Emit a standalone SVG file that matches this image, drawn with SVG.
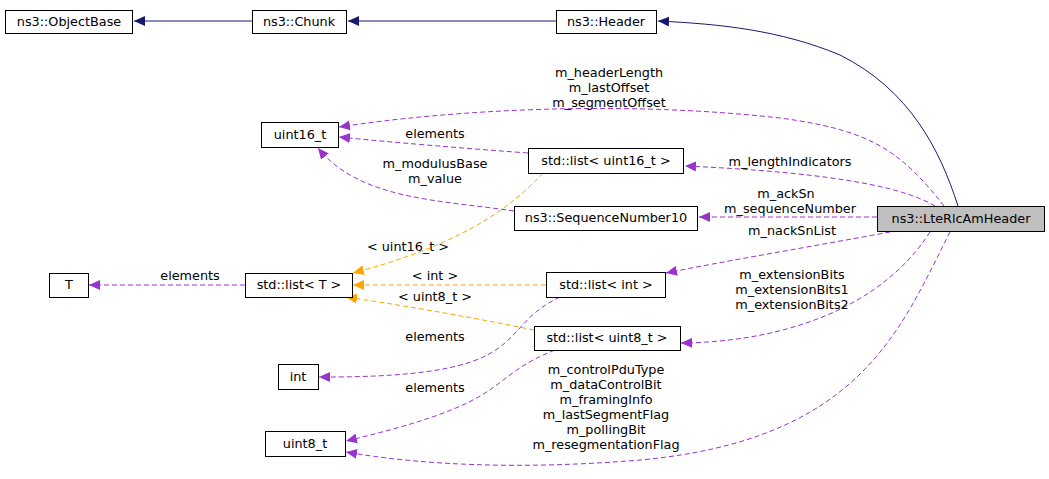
<svg xmlns="http://www.w3.org/2000/svg" width="1049" height="479" viewBox="0 0 1049 479">
<style>
.n rect{fill:#fff;stroke:#000;stroke-width:1}
text{font-family:"DejaVu Sans",sans-serif;font-size:12.8px;fill:#000}
.c{text-anchor:middle}
.inh{fill:none;stroke:#191970;stroke-width:1}
.use{fill:none;stroke:#9a32cd;stroke-width:1;stroke-dasharray:5,3}
.tpl{fill:none;stroke:#ffa500;stroke-width:1;stroke-dasharray:5,3}
</style>
<defs>
<marker id="mi" markerWidth="12" markerHeight="10" refX="11" refY="5" orient="auto" markerUnits="userSpaceOnUse"><path d="M0,0 L11,5 L0,10 z" fill="#191970"/></marker>
<marker id="mu" markerWidth="12" markerHeight="10" refX="11" refY="5" orient="auto" markerUnits="userSpaceOnUse"><path d="M0,0 L11,5 L0,10 z" fill="#9a32cd"/></marker>
<marker id="mt" markerWidth="12" markerHeight="10" refX="11" refY="5" orient="auto" markerUnits="userSpaceOnUse"><path d="M0,0 L11,5 L0,10 z" fill="#ffa500"/></marker>
</defs>
<rect width="1049" height="479" fill="#fff"/>
<g id="connectors">
<path class="inh" marker-end="url(#mi)" d="M252,21 L134,21"/>
<path class="inh" marker-end="url(#mi)" d="M556,21 L348,21"/>
<path class="inh" marker-end="url(#mi)" d="M958,206 C940,150 910,90 840,55 C780,30 720,24 658,21"/>
<path class="use" marker-end="url(#mu)" d="M944,206 C900,150 870,130 780,118 C620,100 450,110 339,127"/>
<path class="use" marker-end="url(#mu)" d="M935,206 C900,185 820,172 685,166"/>
<path class="use" marker-end="url(#mu)" d="M877,217 L699,217"/>
<path class="use" marker-end="url(#mu)" d="M890,232 C820,245 720,262 666,273"/>
<path class="use" marker-end="url(#mu)" d="M930,232 C880,310 780,342 681,343"/>
<path class="use" marker-end="url(#mu)" d="M950,232 C900,330 860,440 640,460 C520,470 420,465 346,452"/>
<path class="use" marker-end="url(#mu)" d="M528,153 C460,148 400,143 339,137"/>
<path class="use" marker-end="url(#mu)" d="M514,211 C440,200 360,200 318,148"/>
<path class="use" marker-end="url(#mu)" d="M245,285 L89,285"/>
<path class="use" marker-end="url(#mu)" d="M560,297 C490,330 540,378 319,377"/>
<path class="use" marker-end="url(#mu)" d="M555,350 C480,380 520,400 346,441"/>
<path class="tpl" marker-end="url(#mt)" d="M543,173 C500,220 440,250 353,273"/>
<path class="tpl" marker-end="url(#mt)" d="M546,285 L353,285"/>
<path class="tpl" marker-end="url(#mt)" d="M534,330 C460,315 400,305 346,297"/>
</g>
<g>
<text class="c" x="609" y="77">m_headerLength</text>
<text class="c" x="609" y="92">m_lastOffset</text>
<text class="c" x="609" y="107">m_segmentOffset</text>
<text class="c" x="790" y="166">m_lengthIndicators</text>
<text class="c" x="786" y="198">m_ackSn</text>
<text class="c" x="790" y="213">m_sequenceNumber</text>
<text class="c" x="792" y="235">m_nackSnList</text>
<text class="c" x="792" y="279">m_extensionBits</text>
<text class="c" x="792" y="294">m_extensionBits1</text>
<text class="c" x="792" y="309">m_extensionBits2</text>
<text class="c" x="606" y="374">m_controlPduType</text>
<text class="c" x="606" y="389">m_dataControlBit</text>
<text class="c" x="606" y="404">m_framingInfo</text>
<text class="c" x="606" y="419">m_lastSegmentFlag</text>
<text class="c" x="606" y="434">m_pollingBit</text>
<text class="c" x="606" y="449">m_resegmentationFlag</text>
<text class="c" x="435" y="138">elements</text>
<text class="c" x="435" y="168">m_modulusBase</text>
<text class="c" x="435" y="183">m_value</text>
<text class="c" x="408" y="251">&lt; uint16_t &gt;</text>
<text class="c" x="190" y="280">elements</text>
<text class="c" x="435" y="280">&lt; int &gt;</text>
<text class="c" x="435" y="301">&lt; uint8_t &gt;</text>
<text class="c" x="435" y="341">elements</text>
<text class="c" x="435" y="392">elements</text>
</g>
<g id="n_objectbase" class="n"><rect x="5.5" y="10.5" width="127" height="23"/><text class="c" x="69" y="26">ns3::ObjectBase</text></g>
<g id="n_chunk" class="n"><rect x="252.5" y="10.5" width="94" height="23"/><text class="c" x="299" y="26">ns3::Chunk</text></g>
<g id="n_header" class="n"><rect x="556.5" y="10.5" width="100" height="23"/><text class="c" x="606" y="26">ns3::Header</text></g>
<g id="n_lte" class="n"><rect x="877.5" y="206.5" width="167" height="25" style="fill:#bfbfbf"/><text class="c" x="961" y="223">ns3::LteRlcAmHeader</text></g>
<g id="n_uint16" class="n"><rect x="261.5" y="122.5" width="77" height="25"/><text class="c" x="300" y="139">uint16_t</text></g>
<g id="n_list16" class="n"><rect x="528.5" y="148.5" width="155" height="25"/><text class="c" x="606" y="165">std::list&lt; uint16_t &gt;</text></g>
<g id="n_seq" class="n"><rect x="514.5" y="206.5" width="183" height="24"/><text class="c" x="606" y="222">ns3::SequenceNumber10</text></g>
<g id="n_T" class="n"><rect x="49.5" y="273.5" width="39" height="24"/><text class="c" x="69" y="289">T</text></g>
<g id="n_listT" class="n"><rect x="245.5" y="273.5" width="107" height="24"/><text class="c" x="299" y="289">std::list&lt; T &gt;</text></g>
<g id="n_listint" class="n"><rect x="546.5" y="272.5" width="119" height="25"/><text class="c" x="606" y="289">std::list&lt; int &gt;</text></g>
<g id="n_int" class="n"><rect x="278.5" y="364.5" width="40" height="25"/><text class="c" x="298" y="381">int</text></g>
<g id="n_list8" class="n"><rect x="534.5" y="326.5" width="146" height="24"/><text class="c" x="607" y="342">std::list&lt; uint8_t &gt;</text></g>
<g id="n_uint8" class="n"><rect x="265.5" y="431.5" width="80" height="25"/><text class="c" x="305" y="448">uint8_t</text></g>
</svg>
